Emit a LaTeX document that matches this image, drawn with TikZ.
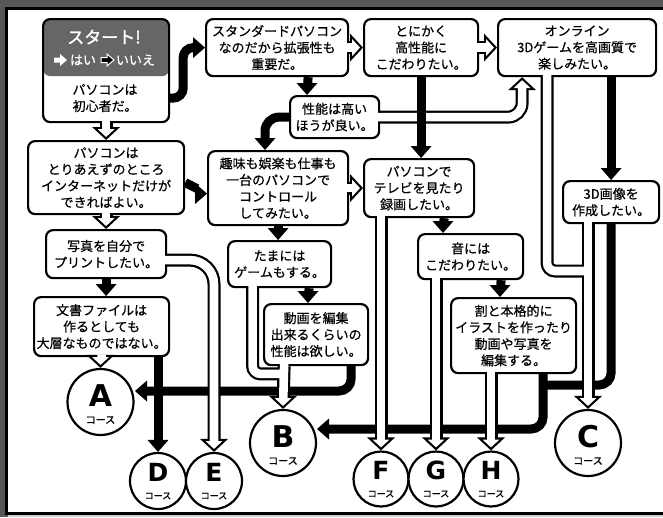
\documentclass[tikz,border=0pt]{standalone}
\usepackage{fontspec}
\usetikzlibrary{calc}
\newfontfamily\jpf{Noto Sans CJK JP}[FakeBold=0.6]
\newfontfamily\jpb{Noto Sans CJK JP}[FakeBold=1.6]
\newfontfamily\crsf{DejaVu Sans}
\definecolor{frameg}{HTML}{575757}
\definecolor{startg}{HTML}{666666}
\definecolor{lowg}{HTML}{CFCFCF}
\tikzset{
  box/.style={draw, line width=2.2pt, rounded corners=7pt, fill=white, align=center, inner sep=0pt, anchor=north west, font=\jpf\fontsize{13}{16.5}\selectfont},
  blk/.style={line width=9pt, black, rounded corners=10pt},
  hob/.style={line width=13pt, black},
  hiw/.style={line width=8.6pt, white, shorten <=-2.5pt},
  crs/.style={draw, line width=2.2pt, circle, fill=white, inner sep=0pt},
  lettr/.style={font=\crsf\bfseries\fontsize{30}{30}\selectfont, inner sep=0pt},
  lettrs/.style={font=\crsf\bfseries\fontsize{25}{25}\selectfont, inner sep=0pt},
  crsub/.style={font=\jpb\fontsize{10}{10}\selectfont, inner sep=0pt},
  crsubs/.style={font=\jpb\fontsize{9}{9}\selectfont, inner sep=0pt},
  wtxt/.style={text=white, inner sep=0pt},
}
\newcommand{\bhead}[2]{\begin{scope}[shift={(#1)}, rotate=#2]\fill[black] (0,0) -- (-12,10.5) -- (-12,-10.5) -- cycle;\end{scope}}
\newcommand{\hheadb}[2]{\begin{scope}[shift={(#1)}, rotate=#2]\fill[black] (0,0) -- (-13,14) -- (-13,-14) -- cycle;\end{scope}}
\newcommand{\hheadw}[2]{\begin{scope}[shift={(#1)}, rotate=#2]\fill[white] (-3,0) -- (-10.8,8.4) -- (-10.8,-8.4) -- cycle;\end{scope}}
\newcommand{\hollowpaths}[1]{%
  \draw[#1, shorten >=9pt] (start.south) -- (pcnet.north);
  \draw[#1, shorten >=9pt] (std.east) -- (toni.west);
  \draw[#1, shorten >=9pt] (toni.east) -- (online.west);
  \draw[#1, shorten >=9pt, rounded corners=14pt] (seino.east) -| (h4t);
  \draw[#1, shorten >=9pt] (pcnet.south) -- (photo.north);
  \draw[#1, shorten >=9pt, rounded corners=24pt] (h6s) -| (cE.north);
  \draw[#1, shorten >=9pt] (bunsho.south) -- (cA.north);
  \draw[#1, shorten >=9pt] (hobby.east) -- (tv.west);
  \draw[#1, rounded corners=8pt] (h9s) |- (h9e);
  \draw[#1, shorten >=9pt] (h10s) -- (cB.north);
  \draw[#1, shorten >=9pt] (cF.north |- tv.south) -- (cF.north);
  \draw[#1, shorten >=9pt] (cG.north |- oto.south) -- (cG.north);
  \draw[#1, shorten >=9pt] (cH.north |- warito.south) -- (cH.north);
  \draw[#1, rounded corners=8pt] (h14s) |- (h14e);
  \draw[#1, shorten >=9pt] (cC.north |- cg3d.south) -- (cC.north);
}
\newcommand{\hollowheads}[1]{%
  #1{pcnet.north}{-90}
  #1{toni.west}{0}
  #1{online.west}{0}
  #1{h4t}{90}
  #1{photo.north}{-90}
  #1{cE.north}{-90}
  #1{cA.north}{-90}
  #1{tv.west}{0}
  #1{cB.north}{-90}
  #1{cF.north}{-90}
  #1{cG.north}{-90}
  #1{cH.north}{-90}
  #1{cC.north}{-90}
}
\begin{document}
\begin{tikzpicture}[x=1pt,y=-1pt]
\useasboundingbox (0,0) rectangle (663,517);
% frame
\fill[frameg] (0,0) rectangle (663,517);
\fill[lowg] (8,514) rectangle (663,517);
\fill[white] (6,8.5) rectangle (663,513.5);
\draw[line width=3pt] (663,8.5) -- (6,8.5) -- (6,513.5) -- (663,513.5);

% boxes
\node[box, minimum width=126pt, minimum height=103pt,
  path picture={\fill[startg] ([yshift=2pt]path picture bounding box.north west) rectangle ([yshift=-57pt]path picture bounding box.north east);}] (start) at (42,18) {};
\node[font=\jpb\fontsize{17}{17}\selectfont, wtxt] (sttitle) at (104,37) {スタート!};
\fill[white] (54,57.5) -- (60,57.5) -- (60,54) -- (67,60) -- (60,66) -- (60,62.5) -- (54,62.5) -- cycle;
\node[font=\jpf\fontsize{13}{13}\selectfont, wtxt] (hai) at (83,60) {はい};
\filldraw[fill=black, draw=white, line width=1pt] (101,57.5) -- (107,57.5) -- (107,54) -- (114,60) -- (107,66) -- (107,62.5) -- (101,62.5) -- cycle;
\node[font=\jpf\fontsize{13}{13}\selectfont, wtxt] (iie) at (135.5,60) {いいえ};
\node[font=\jpf\fontsize{13}{16.5}\selectfont, align=center, inner sep=0pt] (stq) at (105,98) {パソコンは\\初心者だ。};

\node[box, minimum width=142pt, minimum height=57pt] (std) at (205,18) {スタンダードパソコン\\なのだから拡張性も\\重要だ。};
\node[box, minimum width=114pt, minimum height=57pt] (toni) at (363,18) {とにかく\\高性能に\\こだわりたい。};
\node[box, minimum width=158pt, minimum height=57pt] (online) at (497,18) {オンライン\\3Dゲームを高画質で\\楽しみたい。};
\node[box, minimum width=89pt, minimum height=42pt] (seino) at (289,95) {性能は高い\\ほうが良い。};
\node[box, minimum width=156pt, minimum height=73pt] (pcnet) at (27,140) {パソコンは\\とりあえずのところ\\インターネットだけが\\できればよい。};
\node[box, minimum width=140pt, minimum height=74pt] (hobby) at (207,150) {趣味も娯楽も仕事も\\一台のパソコンで\\コントロール\\してみたい。};
\node[box, minimum width=110pt, minimum height=58pt] (tv) at (363,158) {パソコンで\\テレビを見たり\\録画したい。};
\node[box, minimum width=96pt, minimum height=42pt] (cg3d) at (562,180) {3D画像を\\作成したい。};
\node[box, minimum width=120pt, minimum height=48pt] (photo) at (45,229) {写真を自分で\\プリントしたい。};
\node[box, minimum width=135pt, minimum height=59pt] (bunsho) at (33,296) {文書ファイルは\\作るとしても\\大層なものではない。};
\node[box, minimum width=103pt, minimum height=46pt] (tamani) at (227,240) {たまには\\ゲームもする。};
\node[box, minimum width=104pt, minimum height=61pt] (douga) at (263,303) {動画を編集\\出来るくらいの\\性能は欲しい。};
\node[box, minimum width=105pt, minimum height=45pt] (oto) at (417,233) {音には\\こだわりたい。};
\node[box, minimum width=125pt, minimum height=75pt] (warito) at (450,297) {割と本格的に\\イラストを作ったり\\動画や写真を\\編集する。};

% course circles
\node[crs, minimum size=66pt] (cA) at (100.5,402) {};
\node[crs, minimum size=66pt] (cB) at (283,443) {};
\node[crs, minimum size=66pt] (cC) at (588,443) {};
\node[crs, minimum size=56pt] (cD) at (158,481) {};
\node[crs, minimum size=56pt] (cE) at (214,481) {};
\node[crs, minimum size=55pt] (cF) at (381,479) {};
\node[crs, minimum size=55pt] (cG) at (436,479) {};
\node[crs, minimum size=55pt] (cH) at (491,479) {};
\foreach \c/\l in {A/A,B/B,C/C}{
  \node[lettr] (l\c) at ([yshift=6pt]c\c.center) {\l};
  \node[crsub] (s\c) at ([yshift=-18pt]c\c.center) {コース};
}
\foreach \c/\l in {D/D,E/E,F/F,G/G,H/H}{
  \node[lettrs] (l\c) at ([yshift=9pt]c\c.center) {\l};
  \node[crsubs] (s\c) at ([yshift=-15pt]c\c.center) {コース};
}

% coordinates
\coordinate (h4t) at ([xshift=-55pt]online.south);
\coordinate (h6s) at ([yshift=-6pt]photo.east);
\coordinate (h9s) at ([xshift=-27pt]tamani.south);
\coordinate (h9e) at ([yshift=35pt]cB.north);
\coordinate (h10s) at ([xshift=-32pt]douga.south);
\coordinate (h14s) at ([xshift=-30pt]online.south);
\coordinate (h14e) at (588,271);
\coordinate (k2t) at (307,95);
\coordinate (k3t) at (toni.south |- tv.north);
\coordinate (k5t) at ([yshift=-5.5pt]hobby.west);
\coordinate (k6t) at (265,150);
\coordinate (k7t) at (photo.south |- bunsho.north);
\coordinate (k9t) at (hobby.south |- tamani.north);
\coordinate (k10t) at (308,303);
\coordinate (k11t) at (135,391);
\coordinate (k12t) at (443,233);
\coordinate (k13t) at (500,297);
\coordinate (k14t) at (317,429);
\coordinate (k15e) at (542,385);

% black (no) connectors
\draw[blk, shorten >=11pt] ([yshift=-27.5pt]start.east) -- ++(13,0) |- (std.west);
\bhead{std.west}{0}
\draw[blk, shorten >=11pt] ([xshift=31pt]std.south) -- (k2t);
\bhead{k2t}{-90}
\draw[blk, shorten >=11pt] (cg3d.north |- online.south) -- (cg3d.north);
\bhead{cg3d.north}{-90}
\draw[blk, shorten >=11pt] ([yshift=-5pt]pcnet.east) -- (k5t);
\bhead{k5t}{0}
\draw[blk, shorten >=11pt, rounded corners=14pt] (seino.west) -| (k6t);
\bhead{k6t}{-90}
\draw[blk, shorten >=11pt] (photo.south) -- (k7t);
\bhead{k7t}{-90}
\draw[blk, shorten >=11pt] (cD.north |- bunsho.south) -- (cD.north);
\bhead{cD.north}{-90}
\draw[blk, shorten >=11pt] (hobby.south) -- (k9t);
\bhead{k9t}{-90}
\draw[blk, shorten >=11pt] ([xshift=29.5pt]tamani.south) -- (k10t);
\bhead{k10t}{-90}
\draw[blk, shorten >=11pt, rounded corners=12pt] ([xshift=35pt]douga.south) |- (k11t);
\bhead{k11t}{180}
\draw[blk, shorten >=11pt] ([xshift=25pt]tv.south) -- (k12t);
\bhead{k12t}{-90}
\draw[blk, shorten >=11pt] ([xshift=30.5pt]oto.south) -- (k13t);
\bhead{k13t}{-90}
\draw[blk, shorten >=11pt, rounded corners=12pt] ([xshift=29.5pt]warito.south) |- (k14t);
\bhead{k14t}{180}
\draw[blk, rounded corners=12pt] (cg3d.south) |- (k15e);

% hollow (yes) connectors
\hollowpaths{hob}
\hollowheads{\hheadb}
\hollowheads{\hheadw}
\hollowpaths{hiw}

% black line drawn over the hollow one
\draw[blk, shorten >=11pt] (toni.south) -- (k3t);
\bhead{k3t}{-90}
\end{tikzpicture}
\end{document}
